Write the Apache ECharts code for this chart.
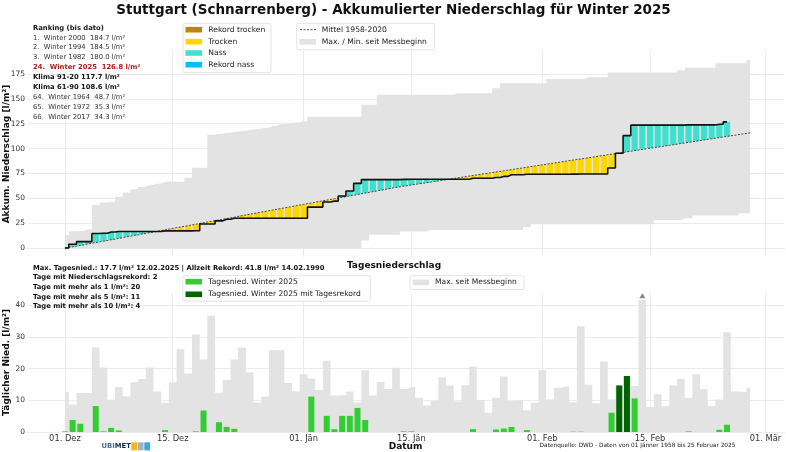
<!DOCTYPE html>
<html><head><meta charset="utf-8">
<script src="https://cdn.jsdelivr.net/npm/echarts@6/dist/echarts.min.js"></script>
<style>html,body{margin:0;padding:0;background:#fff}#c{width:786px;height:452px}</style>
</head><body><div id="c"></div>
<script>
// ---- data ----
const tickDays = [0, 14, 31, 45, 62, 76, 91];
const tickLabels = ['01. Dez', '15. Dez', '01. Jän', '15. Jän', '01. Feb', '15. Feb', '01. Mär'];
const accTicks = [0, 25, 50, 75, 100, 125, 150, 175];
const dailyTicks = [0, 10, 20, 30, 40];

// daily precipitation winter 2025 (day 0 = 01. Dez, leap-year day index)
const daily2025 = [
 0.2, 3.8, 2.6, 0, 8.2, 0.2, 1.3, 0.5, 0, 0,
 0, 0, 0, 0.6, 0, 0, 0, 0.2, 6.8, 0,
 3.1, 1.6, 1.0, 0, 0, 0, 0, 0, 0, 0,
 0, 0, 11.2, 0, 5.1, 0.9, 5.1, 5.1, 7.6, 3.8,
 0, 0, 0, 0, 0.2, 0.2, 0, 0, 0, 0,
 0, 0, 0, 0.9, 0, 0, 0.8, 1.1, 1.6, 0,
 0.6, 0, 0, 0, 0, 0, 0.1, 0.1, 0, 0,
 0, 6.1, 14.7, 17.7, 10.6, 0, 0, 0, 0, 0,
 0, 0.2, 0, 0, 0, 0.7, 2.3
];
// daily maximum since measurement start
const dailyMax = [
 12.6, 8.7, 12.3, 12.3, 26.7, 20.4, 10.2, 14.2, 11.3, 15.7,
 16.7, 20.4, 12.8, 9.2, 15.7, 26.1, 18.5, 30.8, 22.9, 36.7,
 12.4, 16.4, 22.9, 26.7, 18.9, 9.3, 11.2, 25.8, 25.8, 15.5,
 12.9, 18.2, 16.9, 13.3, 22.5, 11.5, 11.6, 12.8, 9.3, 19.5,
 11.5, 15.8, 13.6, 20.3, 13.6, 14.2, 10.8, 8.4, 9.8, 17.3,
 14.7, 9.6, 14.8, 20.7, 10.0, 6.1, 10.8, 17.5, 9.8, 10.0,
 6.9, 9.2, 19.6, 10.3, 14.0, 14.4, 9.4, 33.4, 14.9, 9.1,
 22.3, 10.3, 14.7, 17.7, 14.5, 41.8, 7.9, 11.9, 8.1, 14.7,
 16.7, 10.8, 18.2, 13.6, 8.2, 10.3, 31.5, 12.8, 12.6, 14.0
];
// accumulated max / min since measurement start
const accMax = [
 13.3, 17.0, 17.3, 19.0, 43.3, 46.0, 46.7, 51.7, 56.0, 59.3,
 61.5, 63.5, 65.0, 66.7, 66.7, 66.7, 70.7, 80.7, 80.7, 114.0,
 115.0, 116.0, 117.0, 118.0, 119.0, 120.0, 121.0, 123.0, 124.5, 125.5,
 126.5, 127.5, 132.0, 132.0, 132.0, 132.0, 132.0, 132.0, 132.0, 144.0,
 144.0, 154.0, 154.0, 154.0, 154.0, 154.0, 154.0, 154.0, 154.0, 154.0,
 154.0, 155.6, 155.6, 155.6, 155.6, 155.6, 160.6, 165.6, 165.6, 165.6,
 165.6, 165.6, 165.6, 170.0, 170.0, 170.0, 170.0, 170.0, 171.7, 171.7,
 171.7, 176.3, 176.3, 176.3, 176.3, 176.3, 176.3, 176.3, 176.3, 176.3,
 178.7, 181.3, 181.3, 181.3, 181.3, 185.6, 185.6, 185.6, 185.6, 189.0
];
const accMin = [
 0, 0, 0, 0, 0, 0, 0, 0, 0, 0,
 0, 0, 0, 0, 0, 0, 0, 0, 0, 0,
 0, 0, 0, 0, 0, 0, 0, 0, 0, 0,
 0, 0, 0, 0, 0, 0, 0, 0, 0, 7.7,
 13.5, 13.5, 13.5, 13.5, 16.7, 16.7, 16.7, 16.7, 18.4, 18.4,
 18.4, 18.4, 18.4, 18.4, 18.4, 18.4, 18.4, 18.4, 18.4, 18.4,
 21.0, 24.0, 24.0, 24.0, 24.0, 24.0, 24.0, 24.0, 24.0, 24.0,
 24.0, 24.0, 24.0, 24.0, 24.0, 24.0, 24.0, 28.4, 28.4, 28.4,
 28.4, 30.0, 32.8, 32.8, 32.8, 32.8, 32.8, 32.8, 35.0, 35.0
];
// mean 1958-2020
const accMean = [
 0.3, 1.4, 2.8, 4.3, 5.7, 7.1, 8.5, 9.9, 11.4, 12.8,
 14.2, 15.6, 17.0, 18.5, 19.9, 21.3, 22.7, 24.1, 25.6, 27.0,
 28.4, 29.8, 31.2, 32.7, 34.1, 35.5, 36.9, 38.3, 39.8, 41.2,
 42.6, 44.0, 45.4, 46.9, 48.3, 49.7, 51.1, 52.5, 54.0, 55.4,
 56.8, 58.2, 59.6, 61.1, 62.3, 63.5, 64.7, 65.8, 67.0, 68.2,
 69.4, 70.6, 71.8, 73.0, 74.2, 75.4, 76.6, 77.7, 78.9, 80.1,
 81.3, 82.5, 83.7, 84.9, 86.1, 87.3, 88.5, 89.6, 90.8, 92.0,
 93.2, 94.4, 95.6, 96.8, 98.0, 99.2, 100.4, 101.5, 102.7, 103.9,
 105.1, 106.3, 107.5, 108.7, 109.9, 111.1, 112.3, 113.4, 114.6, 115.8
];
const rankingText = [
 'Ranking (bis dato)',
 '1.  Winter 2000  184.7 l/m²',
 '2.  Winter 1994  184.5 l/m²',
 '3.  Winter 1982  180.0 l/m²',
 '24.  Winter 2025  126.8 l/m²',
 'Klima 91-20 117.7 l/m²',
 'Klima 61-90 108.6 l/m²',
 '64.  Winter 1964  48.7 l/m²',
 '65.  Winter 1972  35.3 l/m²',
 '66.  Winter 2017  34.3 l/m²'
];
const rankingKind = ['head','n','n','n','cur','bold','bold','n','n','n'];
const infoText = [
 'Max. Tagesnied.: 17.7 l/m² 12.02.2025 | Allzeit Rekord: 41.8 l/m² 14.02.1990',
 'Tage mit Niederschlagsrekord: 2',
 'Tage mit mehr als 1 l/m²: 20',
 'Tage mit mehr als 5 l/m²: 11',
 'Tage mit mehr als 10 l/m²: 4'
];

// ---- derived ----
const FONT = 'DejaVu Sans';
const cum = [];
daily2025.reduce((s, v, i) => { s += v; cum[i] = Math.round(s * 10) / 10; return s; }, 0);
// stacked series are given as [value, day] with encode {x:1, y:0} so stacking happens on y
const SWAP = { x: 1, y: 0 };
const baseBars = cum.map((c, i) => [Math.min(c, accMean[i]), i]);
const diffBars = cum.map((c, i) => {
  const m = accMean[i];
  let col;
  if (c >= m) col = c >= accMax[i] ? '#00bfff' : '#40e0d0';
  else col = c <= accMin[i] ? '#b8860b' : '#ffd700';
  return { value: [Math.abs(c - m), i], itemStyle: { color: col } };
});
const greenBars = [];
daily2025.forEach((v, i) => {
  if (v > 0) greenBars.push({ value: [i, v], itemStyle: { color: v >= dailyMax[i] ? '#006400' : '#32cd32' } });
});
const maxIdx = dailyMax.indexOf(Math.max(...dailyMax));
const GRID_C = '#ebebeb';
const gridLinesTop = tickDays.map(d => ({ xAxis: d })).concat(accTicks.map(v => ({ yAxis: v })));
const gridLinesBot = tickDays.map(d => ({ xAxis: d })).concat(dailyTicks.map(v => ({ yAxis: v })));
const mk = (data) => ({ silent: true, symbol: 'none', z: 1, label: { show: false },
  lineStyle: { color: GRID_C, width: 1, type: 'solid' }, emphasis: { disabled: true }, data });

const XMIN = -4.8, XMAX = 93.4;
const xBase = { type: 'value', min: XMIN, max: XMAX, splitLine: { show: false },
  axisTick: { show: false }, axisLine: { show: true, lineStyle: { color: '#cfcfcf', width: 1 } } };

// ---- graphic (texts / legends) ----
const g = [];
function txt(x, y, text, size, opts) {
  opts = opts || {};
  g.push({ type: 'text', x: x, y: y, rotation: opts.rot || 0, z: 100,
    style: { text: text, x: 0, y: 0, fill: opts.color || '#111', align: opts.align || 'left',
      verticalAlign: 'middle', font: (opts.bold ? 'bold ' : '') + size + 'px "' + FONT + '"' } });
}
function box(x, y, w, h) {
  g.push({ type: 'rect', z: 90, shape: { x: x, y: y, width: w, height: h, r: 2 },
    style: { fill: 'rgba(255,255,255,0.85)', stroke: '#dcdcdc', lineWidth: 0.8 } });
}
function patch(x, y, color) {
  g.push({ type: 'rect', z: 95, shape: { x: x, y: y - 2.8, width: 16.5, height: 5.6 }, style: { fill: color } });
}
txt(393.5, 10.5, 'Stuttgart (Schnarrenberg) - Akkumulierter Niederschlag für Winter 2025', 13.5, { bold: true, align: 'center' });
const rankY = [28.3, 38.3, 47.7, 57.3, 67.3, 77.3, 87.7, 97.3, 107.3, 117.3];
rankingText.forEach((t, i) => {
  const k = rankingKind[i];
  txt(33, rankY[i], t, 6.8, { bold: k !== 'n', color: k === 'cur' ? '#b01c1c' : (k === 'n' ? '#333' : '#111') });
});
// legend 1
box(183, 23.3, 88, 49.5);
const leg1 = [['Rekord trocken', '#b8860b'], ['Trocken', '#ffd700'], ['Nass', '#40e0d0'], ['Rekord nass', '#00bfff']];
const leg1Y = [29.7, 41.7, 53, 64.7];
leg1.forEach((l, i) => { patch(185.5, leg1Y[i], l[1]); txt(208.3, leg1Y[i], l[0], 7.6, { color: '#222' }); });
// legend 2
box(296.7, 23.3, 138, 26.5);
g.push({ type: 'line', z: 95, shape: { x1: 300, y1: 29.7, x2: 316, y2: 29.7 },
  style: { stroke: '#333', lineWidth: 0.9, lineDash: [2, 1.5] } });
txt(321.7, 29.7, 'Mittel 1958-2020', 7.6, { color: '#222' });
patch(299.5, 41.7, '#e3e3e3');
txt(321.7, 41.7, 'Max. / Min. seit Messbeginn', 7.6, { color: '#222' });
// y axis titles
txt(6.5, 154, 'Akkum. Niederschlag [l/m²]', 9, { bold: true, align: 'center', rot: Math.PI / 2 });
txt(6.5, 362.5, 'Täglicher Nied. [l/m²]', 9, { bold: true, align: 'center', rot: Math.PI / 2 });
// bottom title + info
txt(394, 265.5, 'Tagesniederschlag', 9, { bold: true, align: 'center' });
const infoY = [268.3, 277.7, 287.3, 297, 306.7];
infoText.forEach((t, i) => txt(33, infoY[i], t, 6.8, { bold: true }));
box(182.7, 275.7, 188, 25.5);
patch(185.5, 281.7, '#32cd32'); txt(208.3, 281.7, 'Tagesnied. Winter 2025', 7.6, { color: '#222' });
patch(185.5, 294.3, '#006400'); txt(208.3, 294.3, 'Tagesnied. Winter 2025 mit Tagesrekord', 7.6, { color: '#222' });
box(410, 275.7, 114, 13.8);
patch(412.7, 282.4, '#e3e3e3'); txt(435, 282.4, 'Max. seit Messbeginn', 7.6, { color: '#222' });
// footer
txt(405.5, 446.5, 'Datum', 9, { bold: true, align: 'center' });
txt(637.5, 445.7, 'Datenquelle: DWD - Daten von 01 Jänner 1958 bis 25 Februar 2025', 5.8, { align: 'center', color: '#222' });
g.push({ type: 'text', x: 101.5, y: 446.5, z: 100, style: { text: '{a|UBI}{b|MET}', x: 0, y: 0, verticalAlign: 'middle',
  rich: { a: { fill: '#4d6f93', font: 'bold 6.8px "' + FONT + '"' }, b: { fill: '#12304f', font: 'bold 6.8px "' + FONT + '"' } } } });
[['#f3b61f', 131.3], ['#a9b3bc', 137.8], ['#3aa8de', 144.3]].forEach(s => {
  g.push({ type: 'rect', z: 100, shape: { x: s[1], y: 442.3, width: 5.8, height: 8 }, style: { fill: s[0] } });
});

const option = {
  animation: false,
  backgroundColor: '#fff',
  grid: [
    { left: 28, right: 2, top: 51, height: 205.7 },
    { left: 28, right: 2, top: 293, height: 139 }
  ],
  xAxis: [
    Object.assign({}, xBase, { gridIndex: 0, axisLabel: { show: false } }),
    Object.assign({}, xBase, { gridIndex: 1, axisLabel: { show: true, customValues: tickDays, margin: 3,
      fontSize: 8.3, fontFamily: FONT, color: '#333',
      formatter: v => tickLabels[tickDays.indexOf(Math.round(v))] || '' } })
  ],
  yAxis: [
    { type: 'value', gridIndex: 0, min: -8.5, max: 198, splitLine: { show: false }, axisLine: { show: false },
      axisTick: { show: false }, axisLabel: { customValues: accTicks, fontSize: 7.5, fontFamily: FONT, color: '#333', margin: 3 } },
    { type: 'value', gridIndex: 1, min: 0, max: 43.9, splitLine: { show: false }, axisLine: { show: false },
      axisTick: { show: false }, axisLabel: { customValues: dailyTicks, fontSize: 7.5, fontFamily: FONT, color: '#333', margin: 3 } }
  ],
  series: [
    { name: 'minEnv', type: 'line', xAxisIndex: 0, yAxisIndex: 0, stack: 'env', step: 'middle', symbol: 'none', z: 2,
      encode: SWAP, lineStyle: { width: 0 }, areaStyle: { opacity: 0 }, data: accMin.map((v, i) => [v, i]),
      markLine: mk(gridLinesTop) },
    { name: 'Max. / Min. seit Messbeginn', type: 'line', xAxisIndex: 0, yAxisIndex: 0, stack: 'env', step: 'middle', symbol: 'none', z: 2,
      encode: SWAP, lineStyle: { width: 0 }, areaStyle: { color: '#e3e3e3', opacity: 1 },
      data: accMax.map((v, i) => [v - accMin[i], i]) },
    { name: 'base', type: 'bar', xAxisIndex: 0, yAxisIndex: 0, stack: 'cur', barWidth: 6.2, z: 3,
      encode: SWAP, itemStyle: { color: 'rgba(0,0,0,0)' }, data: baseBars },
    { name: 'diff', type: 'bar', xAxisIndex: 0, yAxisIndex: 0, stack: 'cur', barWidth: 6.2, z: 3,
      encode: SWAP, data: diffBars },
    { name: 'Mittel 1958-2020', type: 'line', xAxisIndex: 0, yAxisIndex: 0, symbol: 'none', z: 4,
      lineStyle: { color: '#444', width: 1, type: [2, 1.5] }, data: accMean.map((v, i) => [i, v]) },
    { name: 'Winter 2025', type: 'line', xAxisIndex: 0, yAxisIndex: 0, step: 'middle', symbol: 'none', z: 5,
      lineStyle: { color: '#111', width: 1.6 }, data: cum.map((v, i) => [i, v]) },
    { name: 'Max. seit Messbeginn', type: 'line', xAxisIndex: 1, yAxisIndex: 1, step: 'middle', symbol: 'none', z: 2,
      lineStyle: { width: 0 }, areaStyle: { color: '#e3e3e3', opacity: 1 }, data: dailyMax.map((v, i) => [i, v]),
      markLine: mk(gridLinesBot) },
    { name: 'Tagesnied. Winter 2025', type: 'bar', xAxisIndex: 1, yAxisIndex: 1, barWidth: 6, z: 3, data: greenBars },
    { name: 'rekord', type: 'scatter', xAxisIndex: 1, yAxisIndex: 1, symbol: 'triangle', symbolSize: [6, 5],
      symbolOffset: [0, -4], z: 4, itemStyle: { color: '#666' }, data: [[maxIdx, dailyMax[maxIdx]]] }
  ],
  graphic: g
};
const chart = echarts.init(document.getElementById('c'), null, { renderer: 'canvas' });
chart.setOption(option);
</script></body></html>
